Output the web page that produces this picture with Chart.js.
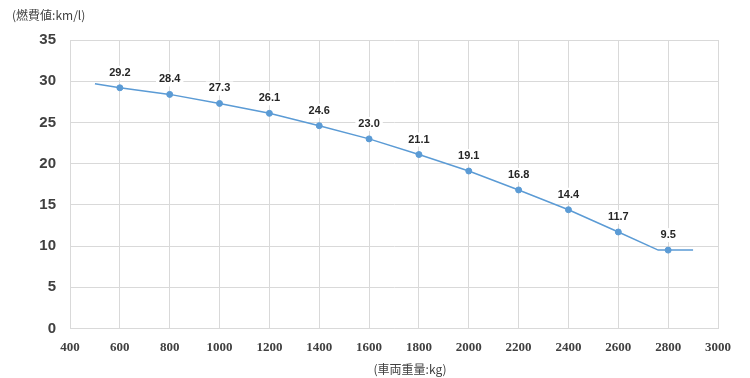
<!DOCTYPE html>
<html><head><meta charset="utf-8">
<script src="https://cdn.jsdelivr.net/npm/chart.js@4/dist/chart.umd.min.js"></script>
<style>html,body{margin:0;padding:0;background:#fff}#wrap{width:750px;height:378px;position:relative}</style>
</head><body><div id="wrap"><canvas id="c"></canvas></div>
<script>
const weights = [600,800,1000,1200,1400,1600,1800,2000,2200,2400,2600,2800];
const fuel = [29.2,28.4,27.3,26.1,24.6,23.0,21.1,19.1,16.8,14.4,11.7,9.5];
const curveX = [500,600,800,1000,1200,1400,1600,1800,2000,2200,2400,2600,2760,2900];
const curveY = [29.7,29.2,28.4,27.3,26.1,24.6,23.0,21.1,19.1,16.8,14.4,11.7,9.5,9.5];
const yTitle = '(燃費値:km/l)';
const xTitle = '(車両重量:kg)';

const labelPlugin = {
  id:'lbls',
  afterDatasetsDraw(chart){
    const ctx = chart.ctx;
    const meta = chart.getDatasetMeta(1);
    ctx.save();
    ctx.font = 'bold 11px "Liberation Sans", Arial, sans-serif';
    ctx.textAlign = 'center'; ctx.textBaseline = 'middle';
    meta.data.forEach((pt,i)=>{
      const t = fuel[i].toFixed(1);
      const w = ctx.measureText(t).width + 6;
      const y = pt.y - 15;
      ctx.fillStyle = '#fff';
      ctx.fillRect(pt.x - w/2, y - 7, w, 14);
      ctx.fillStyle = '#262626';
      ctx.fillText(t, pt.x, y);
    });
    ctx.font = '12px "Noto Sans CJK JP", sans-serif';
    ctx.fillStyle = '#404040';
    ctx.textAlign = 'left';
    ctx.fillText(yTitle, 12, 15);
    ctx.textAlign = 'center';
    ctx.fillText(xTitle, 410, 369);
    ctx.restore();
  }
};

new Chart(document.getElementById('c'), {
  type:'scatter',
  data:{datasets:[
    {data: curveX.map((x,i)=>({x, y:curveY[i]})), showLine:true, borderColor:'#5b9bd5', borderWidth:1.5, pointRadius:0, tension:0, order:2},
    {data: weights.map((x,i)=>({x, y:fuel[i]})), showLine:false, backgroundColor:'#5b9bd5', borderColor:'#5b9bd5', pointRadius:3, order:1}
  ]},
  options:{
    responsive:true, maintainAspectRatio:false, animation:false,
    layout:{padding:{left:0, right:32, top:40, bottom:12}},
    plugins:{legend:{display:false}, tooltip:{enabled:false}},
    scales:{
      x:{type:'linear', min:400, max:3000,
        ticks:{stepSize:200, color:'#404040', font:{family:'"Liberation Serif", serif', size:13, weight:'bold'}, maxRotation:0, autoSkip:false, padding:11,
          callback:v=>String(v)},
        grid:{color:'#d9d9d9', drawTicks:false}, border:{color:'#d9d9d9'}},
      y:{min:0, max:35,
        ticks:{stepSize:5, color:'#404040', font:{family:'"Liberation Sans", Arial, sans-serif', size:15, weight:'bold'}, padding:14},
        grid:{color:'#d9d9d9', drawTicks:false}, border:{color:'#d9d9d9'},
        afterFit(s){ s.width = 70; }}
    }
  },
  plugins:[labelPlugin]
});
</script></body></html>
